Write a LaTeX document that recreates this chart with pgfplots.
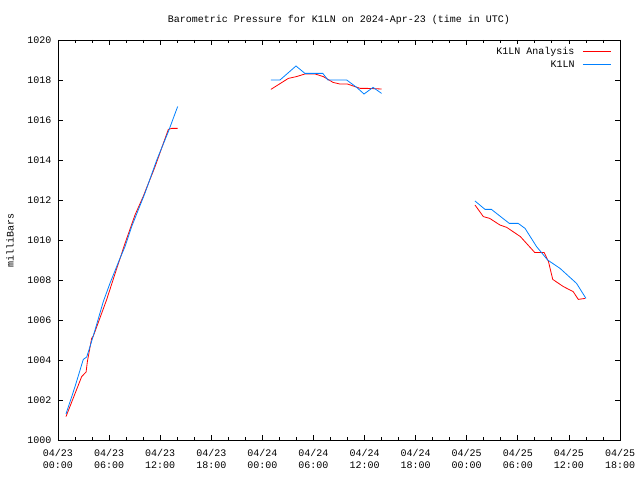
\documentclass[border=0pt]{standalone}
\usepackage{pgfplots}
\pgfplotsset{compat=1.18}
\usepackage{fontspec}
\setmainfont{Liberation Mono}
\definecolor{gpred}{RGB}{255,0,0}
\definecolor{gpblue}{RGB}{0,128,255}
\begin{document}
\fontsize{10bp}{12bp}\selectfont
\begin{tikzpicture}
\begin{axis}[
  name=ax,
  at={(0,0)}, anchor=south west,
  scale only axis,
  width=562bp, height=400bp,
  xmin=0, xmax=66, ymin=1000, ymax=1020,
  xtick={0,6,12,18,24,30,36,42,48,54,60,66},
  xticklabels={{04/23\\00:00},{04/23\\06:00},{04/23\\12:00},{04/23\\18:00},{04/24\\00:00},{04/24\\06:00},{04/24\\12:00},{04/24\\18:00},{04/25\\00:00},{04/25\\06:00},{04/25\\12:00},{04/25\\18:00}},
  xticklabel style={align=center, font=\fontsize{10bp}{12bp}\selectfont, yshift=-6bp},
  minor x tick num=2,
  ytick={1000,1002,...,1020},
  yticklabel style={font=\fontsize{10bp}{12bp}\selectfont, xshift=-3bp},
  /pgf/number format/assume math mode=true,
  /pgf/number format/1000 sep={},
  tick pos=both, tick align=inside,
  major tick length=5bp, minor tick length=3bp,
  axis line style={line width=0.8bp},
  every tick/.style={line width=0.8bp, black},
  title={Barometric Pressure for K1LN on 2024-Apr-23 (time in UTC)},
  title style={at={(axis description cs:0.5,1)}, anchor=center, yshift=14bp, font=\fontsize{10bp}{12bp}\selectfont},
  ylabel={milliBars},
  ylabel style={at={(axis description cs:-0.0854,0.5)}, anchor=center, font=\fontsize{10bp}{12bp}\selectfont},
  unbounded coords=jump,
  legend style={draw=white, fill=white, at={(axis description cs:0.987,0.99)}, anchor=north east, font=\fontsize{10bp}{12bp}\selectfont, row sep=1bp, column sep=6bp, inner sep=1bp},
  legend plot pos=right,
  legend cell align=right,
]
\addplot[color=gpred, line width=0.8bp,
  legend image code/.code={\path[draw=gpred, line width=1bp] (0bp,0bp) -- (28bp,0bp);}] coordinates {
(0.94,1001.17) (2.78,1003.17) (3.3,1003.40) (3.45,1003.92) (3.95,1005.08) (4.15,1005.2)
(5.7,1007.0) (6.9,1008.58) (7.87,1009.83) (9.04,1011.25) (10.0,1012.17) (11.4,1013.67)
(12.37,1014.83) (12.96,1015.53) (13.35,1015.58) (14.05,1015.58)
(20,nan)
(25.0,1017.53) (27.05,1018.08) (28.0,1018.17) (29.0,1018.3) (30.2,1018.3) (31.16,1018.17)
(32.3,1017.88) (33.1,1017.8) (33.98,1017.8) (35.5,1017.58) (36.4,1017.58) (38.0,1017.55)
(44,nan)
(48.97,1011.75) (49.95,1011.17) (50.7,1011.08) (51.9,1010.75) (52.7,1010.63) (54.3,1010.17)
(56.0,1009.37) (57.1,1009.37) (57.6,1008.92) (58.1,1008.03) (59.35,1007.67) (60.5,1007.42)
(61.1,1007.03) (61.9,1007.08)
};
\addlegendentry{K1LN Analysis}
\addplot[color=gpblue, line width=0.8bp,
  legend image code/.code={\path[draw=gpblue, line width=1bp] (0bp,0bp) -- (28bp,0bp);}] coordinates {
(0.94,1001.3) (2.0,1002.67) (2.97,1004.03) (3.37,1004.15) (3.76,1004.67) (4.35,1005.5)
(5.32,1006.92) (6.1,1007.83) (7.2,1009.0) (7.87,1009.67) (8.65,1010.67) (10.2,1012.33)
(11.6,1014.0) (12.96,1015.42) (14.05,1016.67)
(20,nan)
(25.0,1018.0) (26.07,1018.0) (27.95,1018.7) (29.0,1018.33) (31.1,1018.33) (31.7,1018.0)
(33.9,1018.0) (35.08,1017.63) (35.94,1017.3) (37.0,1017.63) (38.0,1017.33)
(44,nan)
(48.97,1011.95) (50.15,1011.53) (50.9,1011.53) (53.0,1010.83) (54.05,1010.83) (54.85,1010.58)
(56.2,1009.67) (57.5,1009.0) (58.96,1008.58) (60.9,1007.83) (62.0,1007.08)
};
\addlegendentry{K1LN}
\end{axis}
\useasboundingbox ([xshift=-58bp,yshift=-40bp]ax.south west) rectangle ([xshift=20bp,yshift=40bp]ax.north east);
\end{tikzpicture}
\end{document}
